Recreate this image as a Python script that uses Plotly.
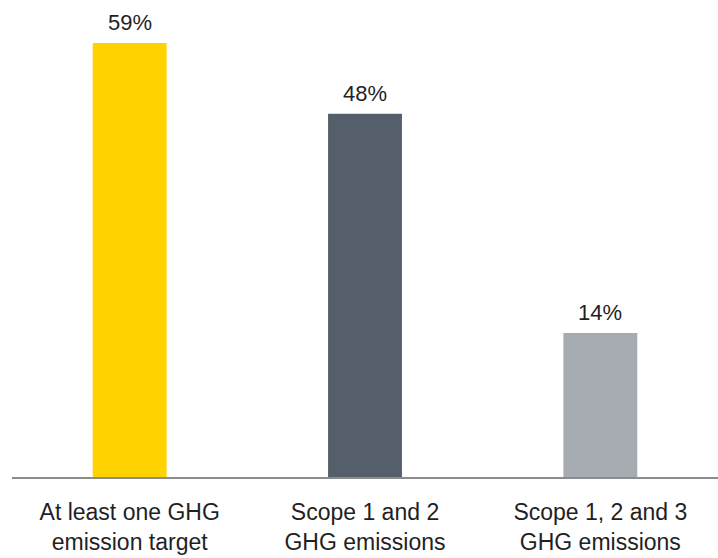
import plotly.graph_objects as go

# Share of companies with greenhouse-gas emission targets
categories = [
    "At least one GHG<br>emission target",
    "Scope 1 and 2<br>GHG emissions",
    "Scope 1, 2 and 3<br>GHG emissions",
]
values = [59, 48, 14]
value_labels = ["59%", "48%", "14%"]
bar_colors = ["#FFD200", "#555F6B", "#A6ABB1"]

# Bars rise from the bottom of the value axis rather than from zero
BAR_FLOOR = -8.35
AXIS_TOP = 65.67

FONT = "Liberation Sans, Arial, sans-serif"
TEXT_COLOR = "#1f1f24"

fig = go.Figure(
    go.Bar(
        x=categories,
        y=[v - BAR_FLOOR for v in values],
        base=BAR_FLOOR,
        marker=dict(color=bar_colors, line=dict(width=0)),
        hovertext=value_labels,
        hoverinfo="x+text",
    )
)

for cat, v, lab in zip(categories, values, value_labels):
    fig.add_annotation(
        x=cat, y=v, text=lab, showarrow=False,
        xanchor="center", yanchor="bottom", yshift=6,
        font=dict(family=FONT, size=22, color=TEXT_COLOR),
    )

fig.update_layout(
    width=718, height=558,
    margin=dict(l=11.5, r=0, t=0, b=81, pad=0),
    paper_bgcolor="white", plot_bgcolor="white",
    bargap=0.686,
    showlegend=False,
    font=dict(family=FONT, size=22, color=TEXT_COLOR),
    xaxis=dict(
        showline=True, linecolor="#8c8c8c", linewidth=1.5,
        showgrid=False, zeroline=False, ticks="",
        ticklabelstandoff=14,
        tickfont=dict(family=FONT, size=23, color=TEXT_COLOR),
        fixedrange=True,
    ),
    yaxis=dict(
        range=[BAR_FLOOR, AXIS_TOP], visible=False,
        showgrid=False, zeroline=False, fixedrange=True,
    ),
)

fig.write_html("out.html")
